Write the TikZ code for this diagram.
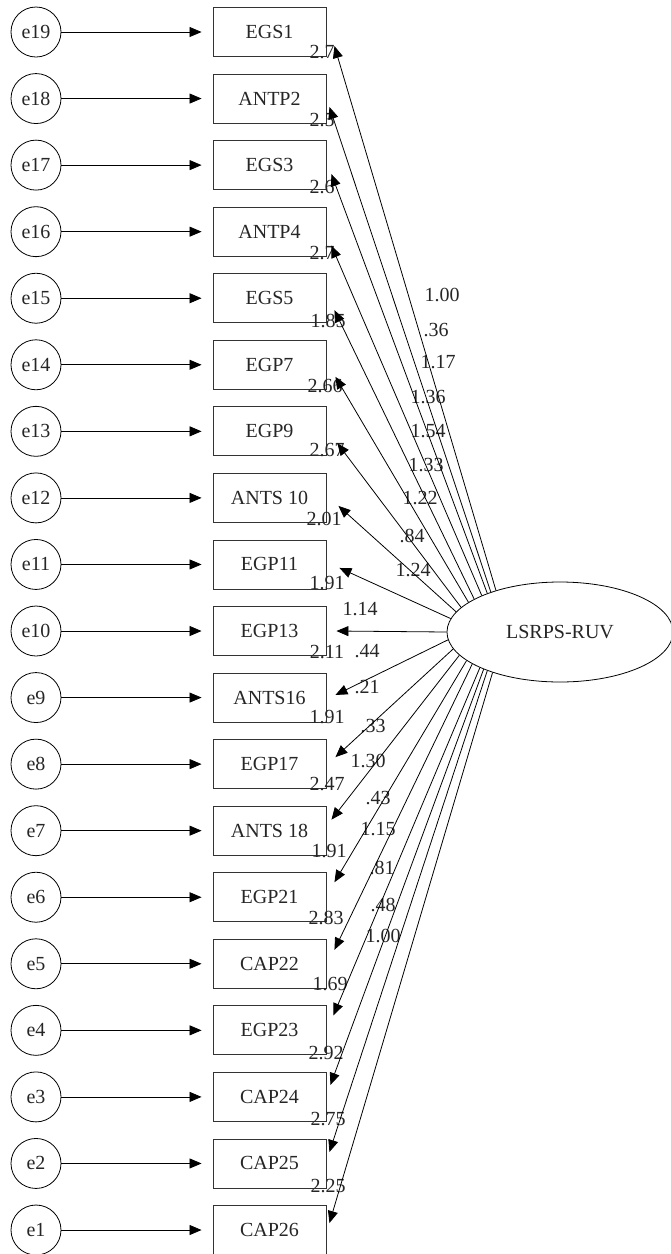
\documentclass[tikz,border=0pt]{standalone}
\usepackage{fontspec}
\setmainfont{Liberation Serif}
\usetikzlibrary{arrows.meta,calc,shapes.geometric}
\begin{document}
\begin{tikzpicture}[x=1pt,y=-1pt,
  every node/.style={font=\fontsize{20}{24}\selectfont, text=black!85},
  errc/.style={draw, circle, minimum size=50pt, inner sep=0pt, line width=0.8pt},
  obsbox/.style={draw=black!80, rectangle, minimum width=113pt, minimum height=49pt, inner sep=0pt, line width=0.9pt},
  latent/.style={draw, ellipse, minimum width=226pt, minimum height=100pt, inner sep=0pt, line width=0.8pt},
  num/.style={inner sep=0pt},
  conn/.style={line width=0.8pt, -{Triangle[length=12pt,width=10pt]}}
]
\useasboundingbox (0,0) rectangle (670,1254);

\foreach \i/\t/\e in {1/EGS1/e19, 2/ANTP2/e18, 3/EGS3/e17, 4/ANTP4/e16, 5/EGS5/e15,
  6/EGP7/e14, 7/EGP9/e13, 8/ANTS 10/e12, 9/EGP11/e11, 10/EGP13/e10, 11/ANTS16/e9,
  12/EGP17/e8, 13/ANTS 18/e7, 14/EGP21/e6, 15/CAP22/e5, 16/EGP23/e4, 17/CAP24/e3,
  18/CAP25/e2, 19/CAP26/e1} {
  \pgfmathsetmacro{\yy}{32+(\i-1)*66.556}
  \node[errc] (c\i) at (36,\yy) {\e};
  \node[obsbox] (b\i) at (269.5,\yy) {\t};
  \draw[conn] (c\i.east) -- ($(b\i.west)+(-11,0)$);
}

\node[latent] (lat) at (560,632) {LSRPS-RUV};

% intercept-like labels near boxes
\node[num] (i1) at (322,52) {2.7};
\node[num] (i2) at (322,120) {2.5};
\node[num] (i3) at (322,187) {2.6};
\node[num] (i4) at (322,253) {2.7};
\node[num] (i5) at (328,321) {1.85};
\node[num] (i6) at (325,386) {2.66};
\node[num] (i7) at (327,450) {2.67};
\node[num] (i8) at (324,519) {2.01};
\node[num] (i9) at (327,583) {1.91};
\node[num] (i10) at (327,652) {2.11};
\node[num] (i11) at (327,717) {1.91};
\node[num] (i12) at (327,784) {2.47};
\node[num] (i13) at (329,851) {1.91};
\node[num] (i14) at (326,918) {2.83};
\node[num] (i15) at (330,984) {1.69};
\node[num] (i16) at (326,1053) {2.92};
\node[num] (i17) at (328,1119) {2.75};
\node[num] (i18) at (328,1186) {2.25};

% loading labels
\node[num] (l1) at (442,295) {1.00};
\node[num] (l2) at (436,330) {.36};
\node[num] (l3) at (438,362) {1.17};
\node[num] (l4) at (428,397) {1.36};
\node[num] (l5) at (428,431) {1.54};
\node[num] (l6) at (426,465) {1.33};
\node[num] (l7) at (420,498) {1.22};
\node[num] (l8) at (412,536) {.84};
\node[num] (l9) at (413,570) {1.24};
\node[num] (l10) at (360,609) {1.14};
\node[num] (l11) at (367,651) {.44};
\node[num] (l12) at (367,687) {.21};
\node[num] (l13) at (373,726) {.33};
\node[num] (l14) at (368,761) {1.30};
\node[num] (l15) at (378,798) {.43};
\node[num] (l16) at (378,829) {1.15};
\node[num] (l17) at (382,868) {.81};
\node[num] (l18) at (383,905) {.48};
\node[num] (l19) at (383,936) {1.00};

% loadings from the latent variable
\foreach \i/\a/\dx/\dy in {1/147.1/8/14, 2/150.0/3/8.4, 3/152.8/5/9, 4/155.5/5/14,
  5/159.1/8/12, 6/162.7/9/12, 7/166.5/11/12, 8/169.5/12/8, 9/173.8/13/3.5,
  10/180/10/0, 11/184.5/9/-2.6, 12/189.2/9/-7, 13/193.5/5/-11, 14/197.3/8/-15,
  15/200.4/8/-14, 16/204.0/7/-15, 17/206.6/4/-12, 18/208.8/3/-11.5, 19/211.1/3/-7} {
  \draw[conn] (lat.\a) -- ($(b\i.east)+(\dx,\dy)$);
}
\end{tikzpicture}
\end{document}
